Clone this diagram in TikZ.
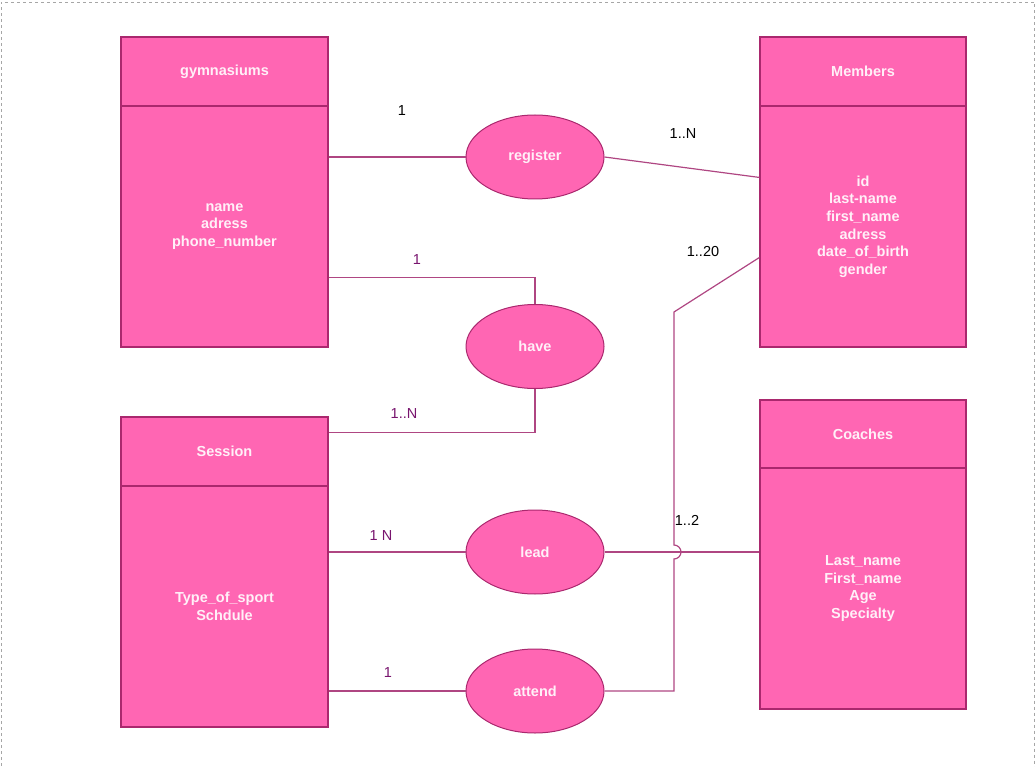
\documentclass[tikz,border=0pt]{standalone}
\usepackage{fontspec}
\setmainfont{Liberation Sans}
\usetikzlibrary{shapes.geometric,calc}
\definecolor{ent}{RGB}{255,102,179}
\definecolor{entborder}{RGB}{170,40,110}
\definecolor{link}{RGB}{175,70,130}
\definecolor{etext}{RGB}{255,240,248}
\definecolor{lblp}{RGB}{120,20,110}
\tikzset{
  hdr/.style={rectangle,draw=entborder,fill=ent,line width=1.1pt,minimum width=207,minimum height=69,inner sep=0,
    text=etext,font=\fontsize{14.5}{17.6}\selectfont\bfseries,align=center},
  bdy/.style={hdr,minimum height=241},
  rel/.style={ellipse,draw=entborder,fill=ent,line width=1pt,minimum width=138,minimum height=84,inner sep=0,
    text=etext,font=\fontsize{14.5}{17.6}\selectfont\bfseries},
  conn/.style={draw=link,line width=1.2pt},
  lbl/.style={font=\fontsize{14.5}{17.6}\selectfont,text=black},
  lblpur/.style={lbl,text=lblp}
}
\begin{document}
\begin{tikzpicture}[x=1pt,y=-1pt]
\useasboundingbox (0,0) rectangle (1036,767);
\draw[gray!70,dashed,line width=0.8pt] (1,790) -- (1,2) -- (1034.5,2) -- (1034.5,790);

% entities
\node[hdr] (gymH) at (224.5,71.5) {gymnasiums};
\node[bdy] (gymB) at (224.5,226.5) {name\\adress\\phone\_number};
\node[hdr,minimum width=206] (memH) at (863,71.5) {Members};
\node[bdy,minimum width=206] (memB) at (863,226.5) {id\\last-name\\first\_name\\adress\\date\_of\_birth\\gender};
\node[hdr] (sesH) at (224.5,451.5) {Session};
\node[bdy] (sesB) at (224.5,606.5) {Type\_of\_sport\\Schdule};
\node[hdr,minimum width=206,minimum height=68] (coaH) at (863,434) {Coaches};
\node[bdy,minimum width=206] (coaB) at (863,588.5) {Last\_name\\First\_name\\Age\\Specialty};

% relations
\node[rel] (register) at (535,157) {register};
\node[rel] (have) at (535,346.5) {have};
\node[rel] (lead) at (535,552) {lead};
\node[rel] (attend) at (535,691) {attend};

\coordinate (bend) at (674,312);
\coordinate (jmp) at (674,552);

% connectors
\draw[conn] (register.west) -- (register.west -| gymB.east);
\draw[conn] (register.east) -- ([yshift=-72pt]memB.north west);
\draw[conn] ([yshift=-172pt]gymB.north east) -| (have.north);
\draw[conn] (have.south) |- ([yshift=-16pt]sesH.north east);
\draw[conn] (lead.west) -- (lead.west -| sesB.east);
\draw[conn] (lead.east) -- (lead.east -| coaB.west);
\draw[conn] (attend.west) -- (attend.west -| sesB.east);
\draw[conn] (attend.east) -| ([yshift=-7pt]jmp) arc(90:-90:7) -- (bend) -- ([yshift=-152pt]memB.north west);

% cardinalities
\node[lbl] (c1) at (402,111) {1};
\node[lbl] (c2) at (683,134) {1..N};
\node[lblpur] (c3) at (417,260) {1};
\node[lbl] (c4) at (703,252) {1..20};
\node[lblpur] (c5) at (404,414) {1..N};
\node[lblpur] (c6) at (381,536) {1 N};
\node[lbl] (c7) at (687,520) {1..2};
\node[lblpur] (c8) at (388,673) {1};
\end{tikzpicture}
\end{document}
